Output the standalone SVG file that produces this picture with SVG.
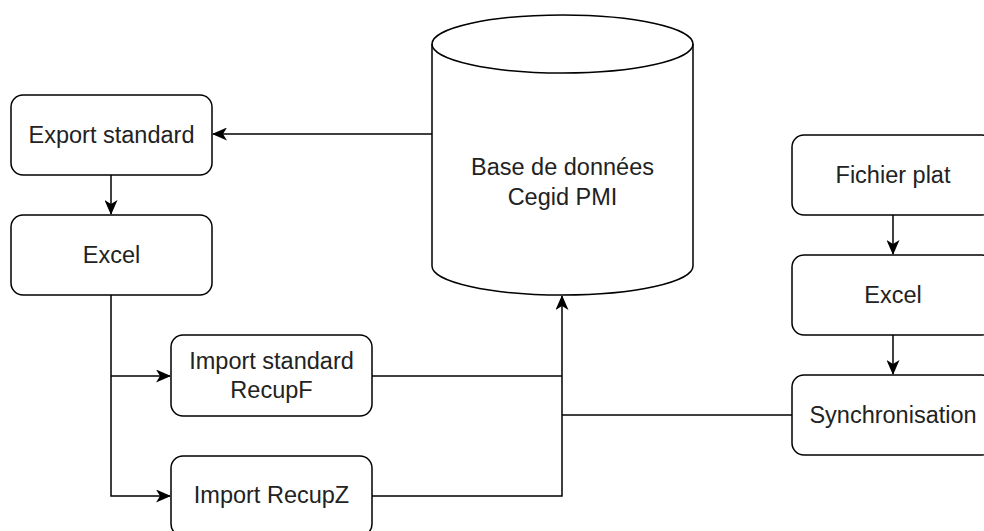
<svg xmlns="http://www.w3.org/2000/svg" width="984" height="531" viewBox="0 0 984 531">
<defs>
<style>
.box{fill:#fff;stroke:#000;stroke-width:1.5}
.lbl{font-family:"Liberation Sans",Arial,sans-serif;font-size:23.5px;fill:#222;text-anchor:middle;dominant-baseline:central}
.edge{fill:none;stroke:#000;stroke-width:1.5}
</style>
<marker id="arr" viewBox="0 0 15 13" refX="14" refY="6.5" markerWidth="15" markerHeight="13" markerUnits="userSpaceOnUse" orient="auto">
<path d="M0,0 L15,6.5 L0,13 L4,6.5 Z" fill="#000"/>
</marker>
</defs>
<rect width="984" height="531" fill="#fff"/>
<g id="connectors">
<path class="edge" d="M432,134 H213" marker-end="url(#arr)"/>
<path class="edge" d="M111,175 V214" marker-end="url(#arr)"/>
<path class="edge" d="M111,295 V496 H170" marker-end="url(#arr)"/>
<path class="edge" d="M111,376 H170" marker-end="url(#arr)"/>
<path class="edge" d="M372,376 H562"/>
<path class="edge" d="M372,496 H562 V296" marker-end="url(#arr)"/>
<path class="edge" d="M792,415 H562"/>
<path class="edge" d="M893,215 V254" marker-end="url(#arr)"/>
<path class="edge" d="M893,335 V374" marker-end="url(#arr)"/>
</g>
<g id="db">
<path class="box" d="M432,44 A130.5,29 0 0 1 693,44 L693,266 A130.5,29 0 0 1 432,266 Z"/>
<path class="edge" d="M432,44 A130.5,29 0 0 0 693,44"/>
<text class="lbl" x="562.5" y="167">Base de données</text>
<text class="lbl" x="562.5" y="197">Cegid PMI</text>
</g>
<g id="export">
<rect class="box" x="11" y="95" width="201" height="80" rx="12"/>
<text class="lbl" x="111.5" y="135">Export standard</text>
</g>
<g id="excel1">
<rect class="box" x="11" y="215" width="201" height="80" rx="12"/>
<text class="lbl" x="111.5" y="255">Excel</text>
</g>
<g id="importF">
<rect class="box" x="171" y="335" width="201" height="81" rx="12"/>
<text class="lbl" x="271.5" y="361">Import standard</text>
<text class="lbl" x="271.5" y="390">RecupF</text>
</g>
<g id="importZ">
<rect class="box" x="171" y="456" width="201" height="80" rx="12"/>
<text class="lbl" x="271.5" y="495">Import RecupZ</text>
</g>
<g id="fichier">
<rect class="box" x="792" y="135" width="202" height="80" rx="12"/>
<text class="lbl" x="893" y="175">Fichier plat</text>
</g>
<g id="excel2">
<rect class="box" x="792" y="255" width="202" height="80" rx="12"/>
<text class="lbl" x="893" y="295">Excel</text>
</g>
<g id="sync">
<rect class="box" x="792" y="375" width="202" height="80" rx="12"/>
<text class="lbl" x="893" y="415">Synchronisation</text>
</g>
</svg>
